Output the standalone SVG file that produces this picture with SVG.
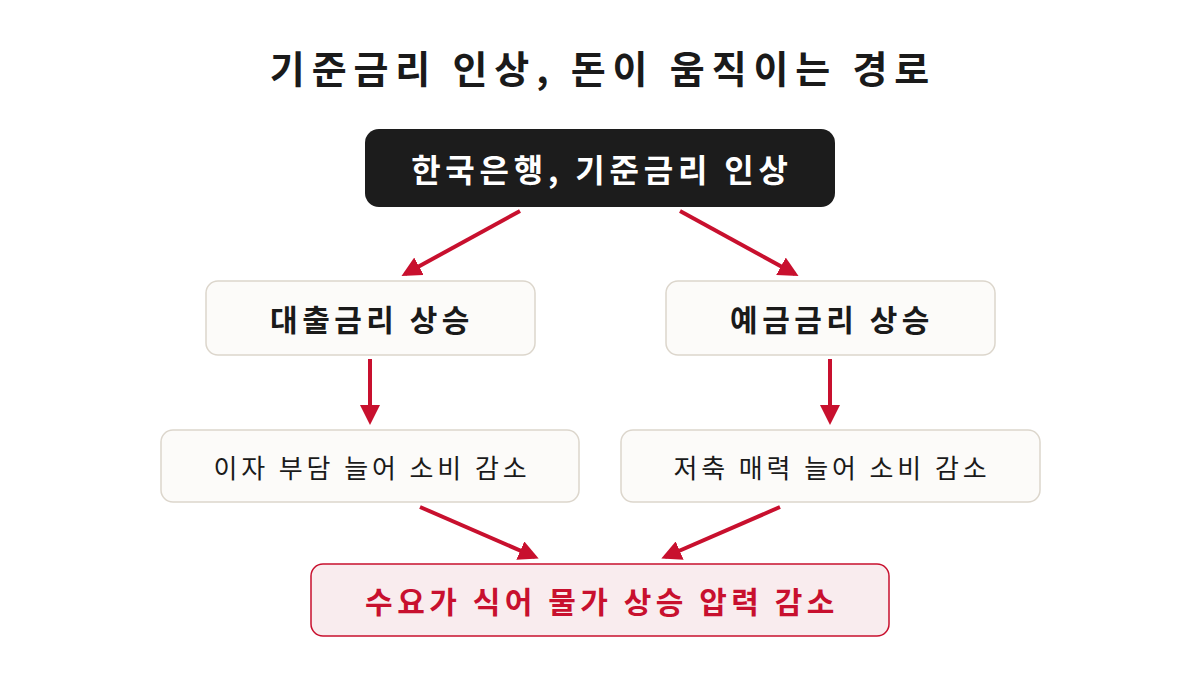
<svg xmlns="http://www.w3.org/2000/svg" width="1200" height="675" viewBox="0 0 1200 675">
<style>
text{font-family:"Noto Sans CJK KR","Noto Sans",sans-serif;text-anchor:middle;dominant-baseline:central;letter-spacing:0.15em}
.box{fill:#fcfbf9;stroke:#dcd6cc;stroke-width:1.5}
.c{stroke:#c8102e;stroke-width:4;fill:none;marker-end:url(#a)}
</style>
<defs><marker id="a" viewBox="0 0 10 10" refX="8" refY="5" markerWidth="5" markerHeight="5" orient="auto" markerUnits="strokeWidth"><path d="M0,0L10,5L0,10z" fill="#c8102e"/></marker></defs>
<rect width="1200" height="675" fill="#fff"/>
<text x="603" y="66" font-size="38" font-weight="700" fill="#1a1a1a" style="letter-spacing:0.18em">기준금리 인상, 돈이 움직이는 경로</text>
<g id="n1"><rect x="365" y="129" width="470" height="78" rx="14" fill="#1c1c1c"/><text x="602" y="168" font-size="32" font-weight="700" fill="#fff">한국은행, 기준금리 인상</text></g>
<g id="n2"><rect class="box" x="206" y="281" width="329" height="74" rx="12"/><text x="372" y="318" font-size="30" font-weight="700" fill="#1a1a1a">대출금리 상승</text></g>
<g id="n3"><rect class="box" x="666" y="281" width="329" height="74" rx="12"/><text x="832" y="318" font-size="30" font-weight="700" fill="#1a1a1a">예금금리 상승</text></g>
<g id="n4"><rect class="box" x="161" y="430" width="418" height="72" rx="12"/><text x="372" y="466" font-size="26" fill="#1a1a1a">이자 부담 늘어 소비 감소</text></g>
<g id="n5"><rect class="box" x="621" y="430" width="419" height="72" rx="12"/><text x="832" y="466" font-size="26" fill="#1a1a1a">저축 매력 늘어 소비 감소</text></g>
<g id="n6"><rect x="311" y="564" width="578" height="72" rx="12" fill="#f9ecee" stroke="#c8102e" stroke-width="1.5"/><text x="602" y="600" font-size="30" font-weight="700" fill="#c8102e">수요가 식어 물가 상승 압력 감소</text></g>
<g id="connectors">
<line class="c" x1="520" y1="211" x2="405" y2="274"/>
<line class="c" x1="680" y1="211" x2="795" y2="274"/>
<line class="c" x1="370" y1="359" x2="370" y2="421"/>
<line class="c" x1="830" y1="359" x2="830" y2="421"/>
<line class="c" x1="420" y1="507" x2="535" y2="557"/>
<line class="c" x1="780" y1="507" x2="665" y2="557"/>
</g>
</svg>
